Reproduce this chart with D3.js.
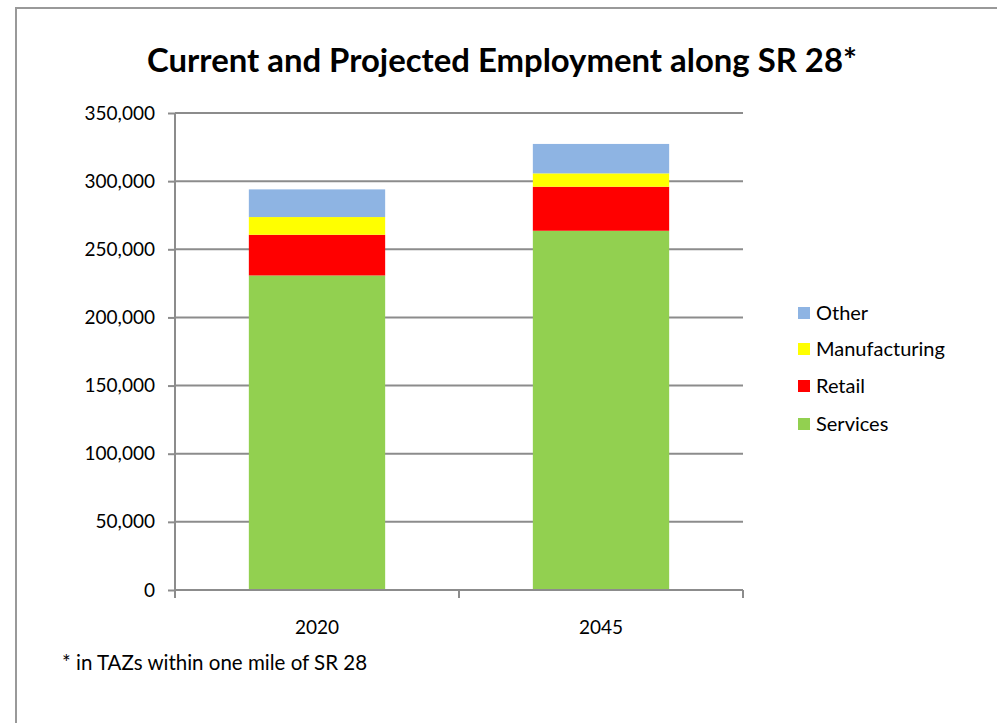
<!DOCTYPE html>
<html>
<head>
<meta charset="utf-8">
<script src="https://cdn.jsdelivr.net/npm/d3@7"></script>
<style>
  body { margin: 0; background: #fff; }
  svg { display: block; }
  text { font-family: Lato, "Open Sans", sans-serif; fill: #000; }
</style>
</head>
<body>
<svg id="chart" width="997" height="723"></svg>
<script>
const years = ["2020", "2045"];
const seriesNames = ["Services", "Retail", "Manufacturing", "Other"];
const services = [230800, 263600];
const retail = [29850, 32300];
const manufacturing = [13000, 9800];
const other = [20300, 21600];
const colors = ["#92d050", "#ff0000", "#ffff00", "#8eb4e3"];
const yTicks = [0, 50000, 100000, 150000, 200000, 250000, 300000, 350000];
const titleText = "Current and Projected Employment along SR 28*";
const footnote = "* in TAZs within one mile of SR 28";

const svg = d3.select("#chart");
const W = 997, H = 723;
const plot = { left: 175, right: 743, top: 113, bottom: 590 };

// frame
svg.append("path")
  .attr("d", `M16,${H + 5} L16,8 L${W + 5},8`)
  .attr("fill", "none").attr("stroke", "#999").attr("stroke-width", 2);

function fit(sel, targetW) {
  const node = sel.node();
  const fs = parseFloat(sel.attr("font-size"));
  const w = node.getComputedTextLength();
  sel.attr("font-size", (fs * targetW / w).toFixed(2));
}

const data = years.map((y, i) => ({
  year: y, Services: services[i], Retail: retail[i],
  Manufacturing: manufacturing[i], Other: other[i]
}));
const stacked = d3.stack().keys(seriesNames)(data);

const x = d3.scaleBand().domain(years).range([plot.left, plot.right])
  .paddingInner(0.52).paddingOuter(0.26);
const y = d3.scaleLinear().domain([0, 350000]).range([plot.bottom, plot.top]);

// gridlines
svg.append("g").selectAll("line").data(yTicks.filter(d => d > 0)).join("line")
  .attr("x1", plot.left).attr("x2", plot.right)
  .attr("y1", d => y(d)).attr("y2", d => y(d))
  .attr("stroke", "#8c8c8c").attr("stroke-width", 2);

// bars
svg.append("g").selectAll("g").data(stacked).join("g")
  .attr("fill", (d, i) => colors[i])
  .selectAll("rect").data(d => d).join("rect")
  .attr("x", d => x(d.data.year))
  .attr("width", x.bandwidth())
  .attr("y", d => y(d[1]))
  .attr("height", d => y(d[0]) - y(d[1]));

// y axis
const yAxis = d3.axisLeft(y).tickValues(yTicks).tickSize(7).tickPadding(13)
  .tickFormat(d3.format(","));
const gy = svg.append("g").attr("transform", `translate(${plot.left},0)`).call(yAxis);
gy.select(".domain").attr("stroke", "#8c8c8c").attr("stroke-width", 2)
  .attr("d", `M0,${plot.top}V${plot.bottom}`);
gy.selectAll(".tick line").attr("stroke", "#8c8c8c").attr("stroke-width", 2);
gy.selectAll(".tick text").attr("font-size", 19).attr("font-family", "Lato, sans-serif")
  .attr("fill", "#000");

// x axis
const gx = svg.append("g").attr("transform", `translate(0,${plot.bottom})`);
gx.append("line").attr("x1", plot.left).attr("x2", plot.right)
  .attr("stroke", "#8c8c8c").attr("stroke-width", 2);
const bounds = [plot.left, (plot.left + plot.right) / 2, plot.right];
gx.selectAll("line.b").data(bounds).join("line").attr("class", "b")
  .attr("x1", d => d).attr("x2", d => d).attr("y1", 0).attr("y2", 8)
  .attr("stroke", "#8c8c8c").attr("stroke-width", 2);
gx.selectAll("text").data(years).join("text")
  .attr("x", d => x(d) + x.bandwidth() / 2).attr("y", 44)
  .attr("text-anchor", "middle").attr("font-size", 19).text(d => d);

// title
const t = svg.append("text").attr("x", 502).attr("y", 72).attr("text-anchor", "middle")
  .attr("font-size", 32).attr("font-weight", "bold").text(titleText);
fit(t, 710);

// footnote
const fn = svg.append("text").attr("x", 62).attr("y", 670).attr("font-size", 19).text(footnote);
fit(fn, 305);

// legend
const legendOrder = ["Other", "Manufacturing", "Retail", "Services"];
const ly = [313, 349, 386, 424];
const lg = svg.append("g");
legendOrder.forEach((name, i) => {
  const ci = seriesNames.indexOf(name);
  lg.append("rect").attr("x", 798).attr("y", ly[i] - 6).attr("width", 12).attr("height", 12)
    .attr("fill", colors[ci]);
  lg.append("text").attr("x", 816).attr("y", ly[i] + 7).attr("font-size", 20).text(name);
});
</script>
</body>
</html>
